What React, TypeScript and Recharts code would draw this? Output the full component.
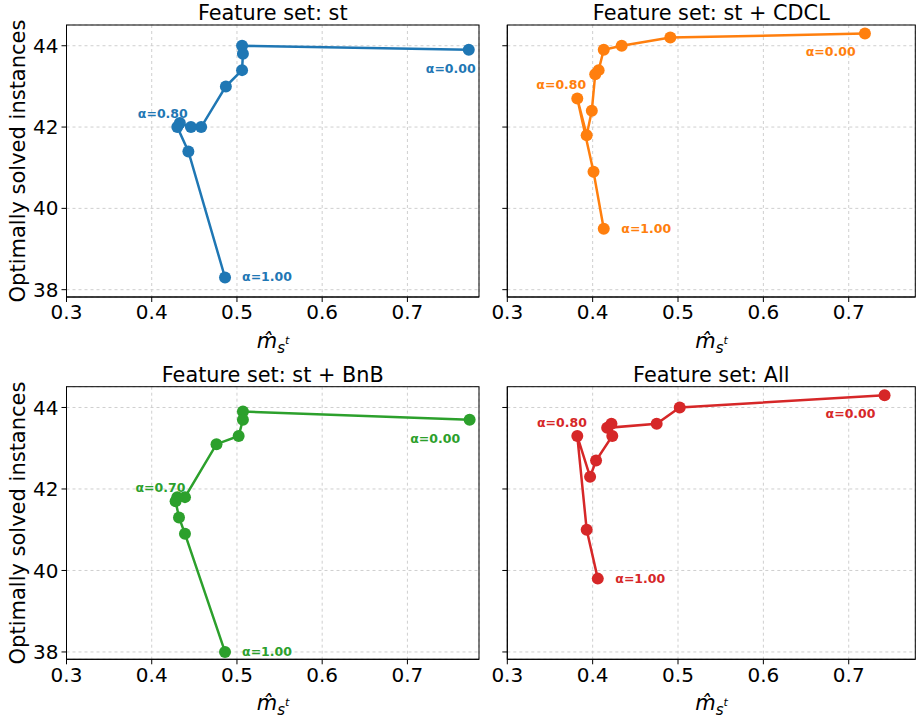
import { LineChart, Line, XAxis, YAxis, CartesianGrid } from 'recharts';

// m-hat values (x) and optimally solved instances (y), alpha = 0.0 .. 1.0
const stX = [0.772, 0.506, 0.507, 0.506, 0.487, 0.458, 0.446, 0.433, 0.43, 0.443, 0.486];
const stY = [43.9, 44.0, 43.8, 43.4, 43.0, 42.0, 42.0, 42.1, 42.0, 41.4, 38.3];

const cdclX = [0.719, 0.491, 0.434, 0.413, 0.407, 0.403, 0.399, 0.393, 0.382, 0.401, 0.413];
const cdclY = [44.3, 44.2, 44.0, 43.9, 43.4, 43.3, 42.4, 41.8, 42.7, 40.9, 39.5];

const bnbX = [0.773, 0.507, 0.507, 0.502, 0.476, 0.439, 0.43, 0.428, 0.432, 0.439, 0.486];
const bnbY = [43.7, 43.9, 43.7, 43.3, 43.1, 41.8, 41.8, 41.7, 41.3, 40.9, 38.0];

const allX = [0.742, 0.502, 0.475, 0.417, 0.422, 0.423, 0.404, 0.397, 0.382, 0.393, 0.406];
const allY = [44.3, 44.0, 43.6, 43.5, 43.6, 43.3, 42.7, 42.3, 43.3, 41.0, 39.8];

const xTicks = [0.3, 0.4, 0.5, 0.6, 0.7];
const yTicks = [38, 40, 42, 44];

const W = 916;
const H = 719;
const FONT = 'DejaVu Sans, sans-serif';
const Y_AXIS_W = 60;
const X_AXIS_H = 30;

const toRows = (xs: number[], ys: number[]) => xs.map((x, i) => ({ x, y: ys[i] }));

const panels = [
  {
    title: 'Feature set: st',
    rows: toRows(stX, stY),
    color: '#1f77b4',
    rect: { x: 66.5, y: 25, w: 412.5, h: 272 },
    xMax: 0.784,
    showY: true,
    notes: [
      { index: 0, text: 'α=0.00', dx: -18, dy: 18.3 },
      { index: 8, text: 'α=0.80', dx: -14.5, dy: -13.5 },
      { index: 10, text: 'α=1.00', dx: 42, dy: -0.5 },
    ],
  },
  {
    title: 'Feature set: st + CDCL',
    rows: toRows(cdclX, cdclY),
    color: '#ff7f0e',
    rect: { x: 507.3, y: 25, w: 408, h: 272 },
    xMax: 0.778,
    showY: false,
    notes: [
      { index: 0, text: 'α=0.00', dx: -34.3, dy: 18.3 },
      { index: 8, text: 'α=0.80', dx: -16, dy: -13.6 },
      { index: 10, text: 'α=1.00', dx: 42.5, dy: -0.6 },
    ],
  },
  {
    title: 'Feature set: st + BnB',
    rows: toRows(bnbX, bnbY),
    color: '#2ca02c',
    rect: { x: 66.5, y: 386.7, w: 412.5, h: 272.6 },
    xMax: 0.784,
    showY: true,
    notes: [
      { index: 0, text: 'α=0.00', dx: -34.4, dy: 18.4 },
      { index: 7, text: 'α=0.70', dx: -15.2, dy: -13.7 },
      { index: 10, text: 'α=1.00', dx: 42, dy: -0.3 },
    ],
  },
  {
    title: 'Feature set: All',
    rows: toRows(allX, allY),
    color: '#d62728',
    rect: { x: 507.3, y: 386.7, w: 408, h: 272.6 },
    xMax: 0.778,
    showY: false,
    notes: [
      { index: 0, text: 'α=0.00', dx: -34, dy: 18.6 },
      { index: 8, text: 'α=0.80', dx: -15.3, dy: -13.7 },
      { index: 10, text: 'α=1.00', dx: 42.5, dy: -0.3 },
    ],
  },
];

type Panel = (typeof panels)[number];

const makeLabel = (p: Panel) => (props: any) => {
  const { x, y, index } = props;
  const n = p.notes.find((a) => a.index === index);
  if (!n) return <g key={`n-${index}`} />;
  return (
    <text
      key={`n-${index}`}
      x={x + n.dx}
      y={y + n.dy}
      textAnchor="middle"
      dominantBaseline="central"
      fill={p.color}
      fontFamily={FONT}
      fontWeight="bold"
      fontSize={12.5}
    >
      {n.text}
    </text>
  );
};

const PanelChart = ({ p }: { p: Panel }) => {
  const { rect } = p;
  const margin = {
    top: rect.y,
    left: rect.x - Y_AXIS_W,
    right: W - (rect.x + rect.w),
    bottom: H - (rect.y + rect.h) - X_AXIS_H,
  };
  const tickStyle = { fill: '#000', fontSize: 20, fontFamily: FONT };
  return (
    <LineChart
      width={W}
      height={H}
      margin={margin}
      style={{ position: 'absolute', left: 0, top: 0 }}
    >
      <CartesianGrid stroke="#cfcfcf" strokeDasharray="3 3" />
      <XAxis
        type="number"
        dataKey="x"
        domain={[0.3, p.xMax]}
        ticks={xTicks}
        allowDataOverflow
        height={X_AXIS_H}
        tickSize={5}
        tickMargin={3}
        tick={tickStyle}
        tickLine={{ stroke: '#000' }}
        axisLine={{ stroke: '#000' }}
        tickFormatter={(v: number) => v.toFixed(1)}
      />
      <YAxis
        type="number"
        dataKey="y"
        domain={[37.82, 44.51]}
        ticks={yTicks}
        allowDataOverflow
        width={Y_AXIS_W}
        tickSize={5}
        tickMargin={3}
        tick={tickStyle}
        tickLine={{ stroke: '#000' }}
        axisLine={{ stroke: '#000' }}
        tickFormatter={(v: number) => (p.showY ? String(v) : '')}
      />
      <Line
        data={p.rows}
        dataKey="y"
        type="linear"
        stroke={p.color}
        strokeWidth={2.5}
        dot={{ r: 6, fill: p.color, stroke: p.color, strokeWidth: 0 }}
        label={makeLabel(p)}
        isAnimationActive={false}
      />
    </LineChart>
  );
};

const Overlay = () => (
  <svg width={W} height={H} style={{ position: 'absolute', left: 0, top: 0, pointerEvents: 'none' }}>
    {panels.map((p, i) => {
      const { rect } = p;
      const cx = rect.x + rect.w / 2;
      const cy = rect.y + rect.h / 2;
      return (
        <g key={i} fontFamily={FONT} fill="#000">
          <rect x={rect.x} y={rect.y} width={rect.w} height={rect.h} fill="none" stroke="#000" strokeWidth={1} />
          <text x={cx} y={rect.y - 5} textAnchor="middle" fontSize={20.8}>
            {p.title}
          </text>
          <text x={cx - 16} y={rect.y + rect.h + 51} fontSize={21}>
            <tspan fontStyle="italic">m̂</tspan>
            <tspan fontStyle="italic" fontSize={15} dy={5}>s</tspan>
            <tspan fontStyle="italic" fontSize={11} dy={-9}>t</tspan>
          </text>
          {p.showY && (
            <text
              x={24.5}
              y={cy}
              textAnchor="middle"
              fontSize={21}
              transform={`rotate(-90 24.5 ${cy})`}
            >
              Optimally solved instances
            </text>
          )}
        </g>
      );
    })}
  </svg>
);

export default function App() {
  return (
    <div style={{ position: 'absolute', left: 0, top: 0, width: W, height: H, background: '#fff' }}>
      {panels.map((p, i) => (
        <PanelChart key={i} p={p} />
      ))}
      <Overlay />
    </div>
  );
}
